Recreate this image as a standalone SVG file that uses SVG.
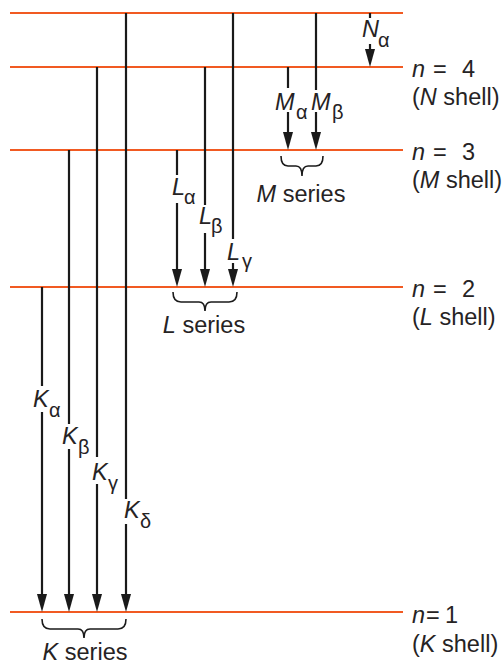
<svg xmlns="http://www.w3.org/2000/svg" width="504" height="666" viewBox="0 0 504 666">
<style>
.lvl{stroke:#F15A22;stroke-width:2;fill:none}
.ar{stroke:#1a1a1a;stroke-width:2.2;fill:none}
.br{stroke:#1a1a1a;stroke-width:1.6;fill:none}
text{font-family:"Liberation Sans",Arial,sans-serif;font-size:23.5px;fill:#262324}
.it{font-style:italic}
.sub{font-size:20px;font-style:normal}
</style>
<defs>
<marker id="ah" markerUnits="userSpaceOnUse" markerWidth="18" markerHeight="10" refX="8" refY="5" orient="auto" viewBox="0 0 18 10">
<path d="M0,0 L18,5 L0,10 Z" fill="#1a1a1a"/>
</marker>
</defs>
<rect width="504" height="666" fill="#fff"/>
<g id="level-top"><line class="lvl" x1="10" y1="13" x2="403" y2="13"/></g>
<g id="level-n4"><line class="lvl" x1="10" y1="67" x2="403" y2="67"/>
<text x="412" y="77"><tspan class="it">n</tspan><tspan x="433">=</tspan><tspan x="462">4</tspan></text>
<text x="412" y="105">(<tspan class="it">N</tspan> shell)</text></g>
<g id="level-n3"><line class="lvl" x1="10" y1="150" x2="403" y2="150"/>
<text x="412" y="160"><tspan class="it">n</tspan><tspan x="433">=</tspan><tspan x="462">3</tspan></text>
<text x="412" y="188">(<tspan class="it">M</tspan> shell)</text></g>
<g id="level-n2"><line class="lvl" x1="10" y1="287" x2="403" y2="287"/>
<text x="412" y="297"><tspan class="it">n</tspan><tspan x="433">=</tspan><tspan x="462">2</tspan></text>
<text x="412" y="325">(<tspan class="it">L</tspan> shell)</text></g>
<g id="level-n1"><line class="lvl" x1="10" y1="612" x2="403" y2="612"/>
<text x="412" y="623"><tspan class="it">n</tspan><tspan x="426">=</tspan><tspan x="445">1</tspan></text>
<text x="412" y="652">(<tspan class="it">K</tspan> shell)</text></g>
<g id="connectors">
<line class="ar" x1="42" y1="287" x2="42" y2="386"/><line class="ar" x1="42" y1="412" x2="42" y2="602" marker-end="url(#ah)"/>
<line class="ar" x1="69" y1="150" x2="69" y2="424"/><line class="ar" x1="69" y1="449" x2="69" y2="602" marker-end="url(#ah)"/>
<line class="ar" x1="97" y1="67" x2="97" y2="457"/><line class="ar" x1="97" y1="484" x2="97" y2="602" marker-end="url(#ah)"/>
<line class="ar" x1="126" y1="13" x2="126" y2="499"/><line class="ar" x1="126" y1="524" x2="126" y2="602" marker-end="url(#ah)"/>
<line class="ar" x1="177" y1="150" x2="177" y2="175"/><line class="ar" x1="177" y1="203" x2="177" y2="277" marker-end="url(#ah)"/>
<line class="ar" x1="205" y1="67" x2="205" y2="205"/><line class="ar" x1="205" y1="233" x2="205" y2="277" marker-end="url(#ah)"/>
<line class="ar" x1="233" y1="13" x2="233" y2="239"/><line class="ar" x1="233" y1="263" x2="233" y2="277" marker-end="url(#ah)"/>
<line class="ar" x1="288" y1="67" x2="288" y2="88"/><line class="ar" x1="288" y1="112" x2="288" y2="140" marker-end="url(#ah)"/>
<line class="ar" x1="316" y1="13" x2="316" y2="90"/><line class="ar" x1="316" y1="112" x2="316" y2="140" marker-end="url(#ah)"/>
<line class="ar" x1="370" y1="13" x2="370" y2="18"/><line class="ar" x1="370" y1="44" x2="370" y2="57" marker-end="url(#ah)"/>
</g>
<g id="labels">
<text x="33" y="407"><tspan class="it">K</tspan><tspan class="sub" x="49" y="417">α</tspan></text>
<text x="62" y="444"><tspan class="it">K</tspan><tspan class="sub" x="78" y="454">β</tspan></text>
<text x="92" y="480"><tspan class="it">K</tspan><tspan class="sub" x="108" y="490">γ</tspan></text>
<text x="124" y="518"><tspan class="it">K</tspan><tspan class="sub" x="140" y="528">δ</tspan></text>
<text x="172" y="195"><tspan class="it">L</tspan><tspan class="sub" x="184" y="204">α</tspan></text>
<text x="199" y="224"><tspan class="it">L</tspan><tspan class="sub" x="211" y="233">β</tspan></text>
<text x="227" y="260"><tspan class="it">L</tspan><tspan class="sub" x="242" y="268">γ</tspan></text>
<text x="275" y="110"><tspan class="it">M</tspan><tspan class="sub" x="296" y="119">α</tspan></text>
<text x="311" y="110"><tspan class="it">M</tspan><tspan class="sub" x="332" y="119">β</tspan></text>
<text x="362" y="37"><tspan class="it">N</tspan><tspan class="sub" x="378" y="47">α</tspan></text>
</g>
<g id="series-K">
<path class="br" d="M42,619 Q42,629 50,629 L78,629 Q84,629 84,638 Q84,629 90,629 L118,629 Q126,629 126,619"/>
<text x="85" y="660" text-anchor="middle"><tspan class="it">K</tspan> series</text>
</g>
<g id="series-L">
<path class="br" d="M173,292 Q173,302 181,302 L199,302 Q205,302 205,311 Q205,302 211,302 L229,302 Q237,302 237,292"/>
<text x="204" y="333" text-anchor="middle"><tspan class="it">L</tspan> series</text>
</g>
<g id="series-M">
<path class="br" d="M281,156 Q281,166 288,166 L296,166 Q302,166 302,176 Q302,166 308,166 L316,166 Q323,166 323,156"/>
<text x="301" y="202" text-anchor="middle"><tspan class="it">M</tspan> series</text>
</g>
</svg>
